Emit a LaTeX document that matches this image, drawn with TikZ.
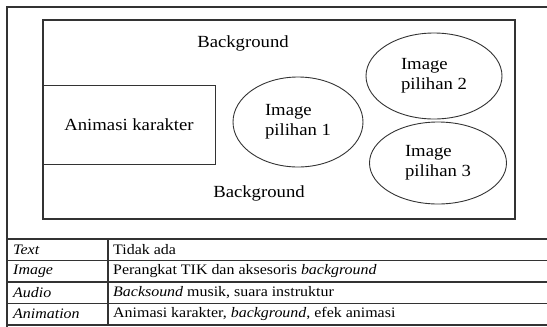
\documentclass[tikz,border=0pt]{standalone}
\usepackage{fontspec}
\setmainfont{Liberation Serif}[FakeStretch=1.1]
\usetikzlibrary{shapes.geometric,positioning}

\tikzset{
  frameline/.style={line width=1.1pt, draw=black!80},
  lbl/.style={font=\fontsize{17}{20}\selectfont, inner sep=0pt},
  pilihan/.style={ellipse, draw=black!80, line width=0.9pt, lbl, align=left},
  cell/.style={anchor=west, font=\fontsize{14.5}{16}\selectfont, inner sep=0pt},
}

\begin{document}
\begin{tikzpicture}[x=1pt,y=-1pt]
    \useasboundingbox (0,0) rectangle (547,327);

    % Outer frame
    \draw[frameline] (7,327) -- (7,7) -- (547,7);

    % Screen layout
    \draw[frameline] (43,20) rectangle (515,219);
    \node[lbl] (bgtop) at (243,43) {Background};
    \node[lbl] (bgbot) at (259,193) {Background};
    \node[draw=black!80, line width=0.9pt, minimum width=172pt, minimum height=79pt, lbl] (anim) at (129,124.5) {Animasi karakter};
    \node[pilihan, minimum width=130pt, minimum height=90pt] (img1) at (298,122) {Image\\pilihan 1};
    \node[pilihan, minimum width=136pt, minimum height=86pt] (img2) at (434,76) {Image\\pilihan 2};
    \node[pilihan, minimum width=137pt, minimum height=82pt] (img3) at (438,163) {Image\\pilihan 3};

    % Table
    \foreach \y in {239,260.5,282,303.5,325}
        \draw[frameline] (7,\y) -- (547,\y);
    \draw[frameline] (108,239) -- (108,325);
    \foreach \y/\k/\v [count=\i] in {249.75/Text/{Tidak ada},
        271.25/Image/{Perangkat TIK dan aksesoris \textit{background}},
        292.75/Audio/{\textit{Backsound} musik, suara instruktur},
        314.25/Animation/{Animasi karakter, \textit{background}, efek animasi}} {
        \node[cell] (key\i) at (13,\y) {\textit{\k}};
        \node[cell] (val\i) at (113,\y) {\v};
    }

\end{tikzpicture}
\end{document}
